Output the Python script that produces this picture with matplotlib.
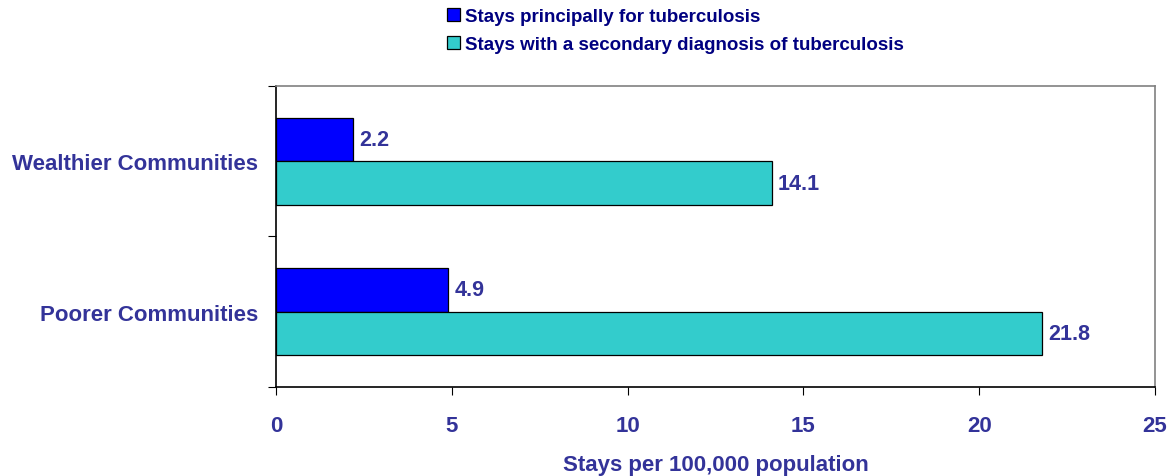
import matplotlib.pyplot as plt
from matplotlib.patches import Patch

plt.rcParams["font.family"] = ["Liberation Sans", "DejaVu Sans"]
plt.rcParams["font.weight"] = "bold"

categories = ["Poorer Communities", "Wealthier Communities"]
principal = [4.9, 2.2]
secondary = [21.8, 14.1]
series_labels = ["Stays principally for tuberculosis",
                 "Stays with a secondary diagnosis of tuberculosis"]

BLUE, CYAN = "#0000ff", "#33cccc"
LBL = "#333399"

fig = plt.figure(figsize=(11.74, 4.77), dpi=100)
ax = fig.add_axes([0.2351, 0.1866, 0.7487, 0.631])

h = 0.29
pos = range(len(categories))
for i in pos:
    ax.barh(i + h / 2, principal[i], height=h, color=BLUE, edgecolor="black", lw=0.9)
    ax.barh(i - h / 2, secondary[i], height=h, color=CYAN, edgecolor="black", lw=0.9)
    ax.text(principal[i] + 0.17, i + h / 2, f"{principal[i]:.1f}", va="center",
            ha="left", fontsize=15.5, color=LBL, fontweight="bold")
    ax.text(secondary[i] + 0.17, i - h / 2, f"{secondary[i]:.1f}", va="center",
            ha="left", fontsize=15.5, color=LBL, fontweight="bold")

ax.set_xlim(0, 25)
ax.set_ylim(-0.5, 1.5)
ax.set_xticks([0, 5, 10, 15, 20, 25])
ax.set_yticks([-0.5, 0.5, 1.5])
ax.set_yticklabels([])
ax.set_yticks(list(pos), minor=True)
ax.set_yticklabels(categories, minor=True)
ax.tick_params(axis="y", which="minor", length=0, pad=13, labelsize=16, labelcolor=LBL)
ax.tick_params(axis="y", which="major", length=6, direction="out")
ax.tick_params(axis="x", length=6, direction="out", pad=14, labelsize=16, labelcolor=LBL)
for lab in ax.get_yticklabels(minor=True) + ax.get_xticklabels():
    lab.set_fontweight("bold")

ax.spines["top"].set_color("#808080")
ax.spines["right"].set_color("#808080")
for s in ax.spines.values():
    s.set_linewidth(1.2)

ax.set_xlabel("Stays per 100,000 population", fontsize=16, color=LBL,
              fontweight="bold", labelpad=13)

handles = [Patch(facecolor=BLUE, edgecolor="black", lw=0.9),
           Patch(facecolor=CYAN, edgecolor="black", lw=0.9)]
leg = fig.legend(handles, series_labels, loc="upper left",
                 bbox_to_anchor=(0.366, 1.016), frameon=False, fontsize=13.5,
                 handlelength=0.7, handleheight=0.7, handletextpad=0.3,
                 labelspacing=0.56)
for t in leg.get_texts():
    t.set_color("#000080")
    t.set_fontweight("bold")

fig.savefig("out.png", facecolor="white")
